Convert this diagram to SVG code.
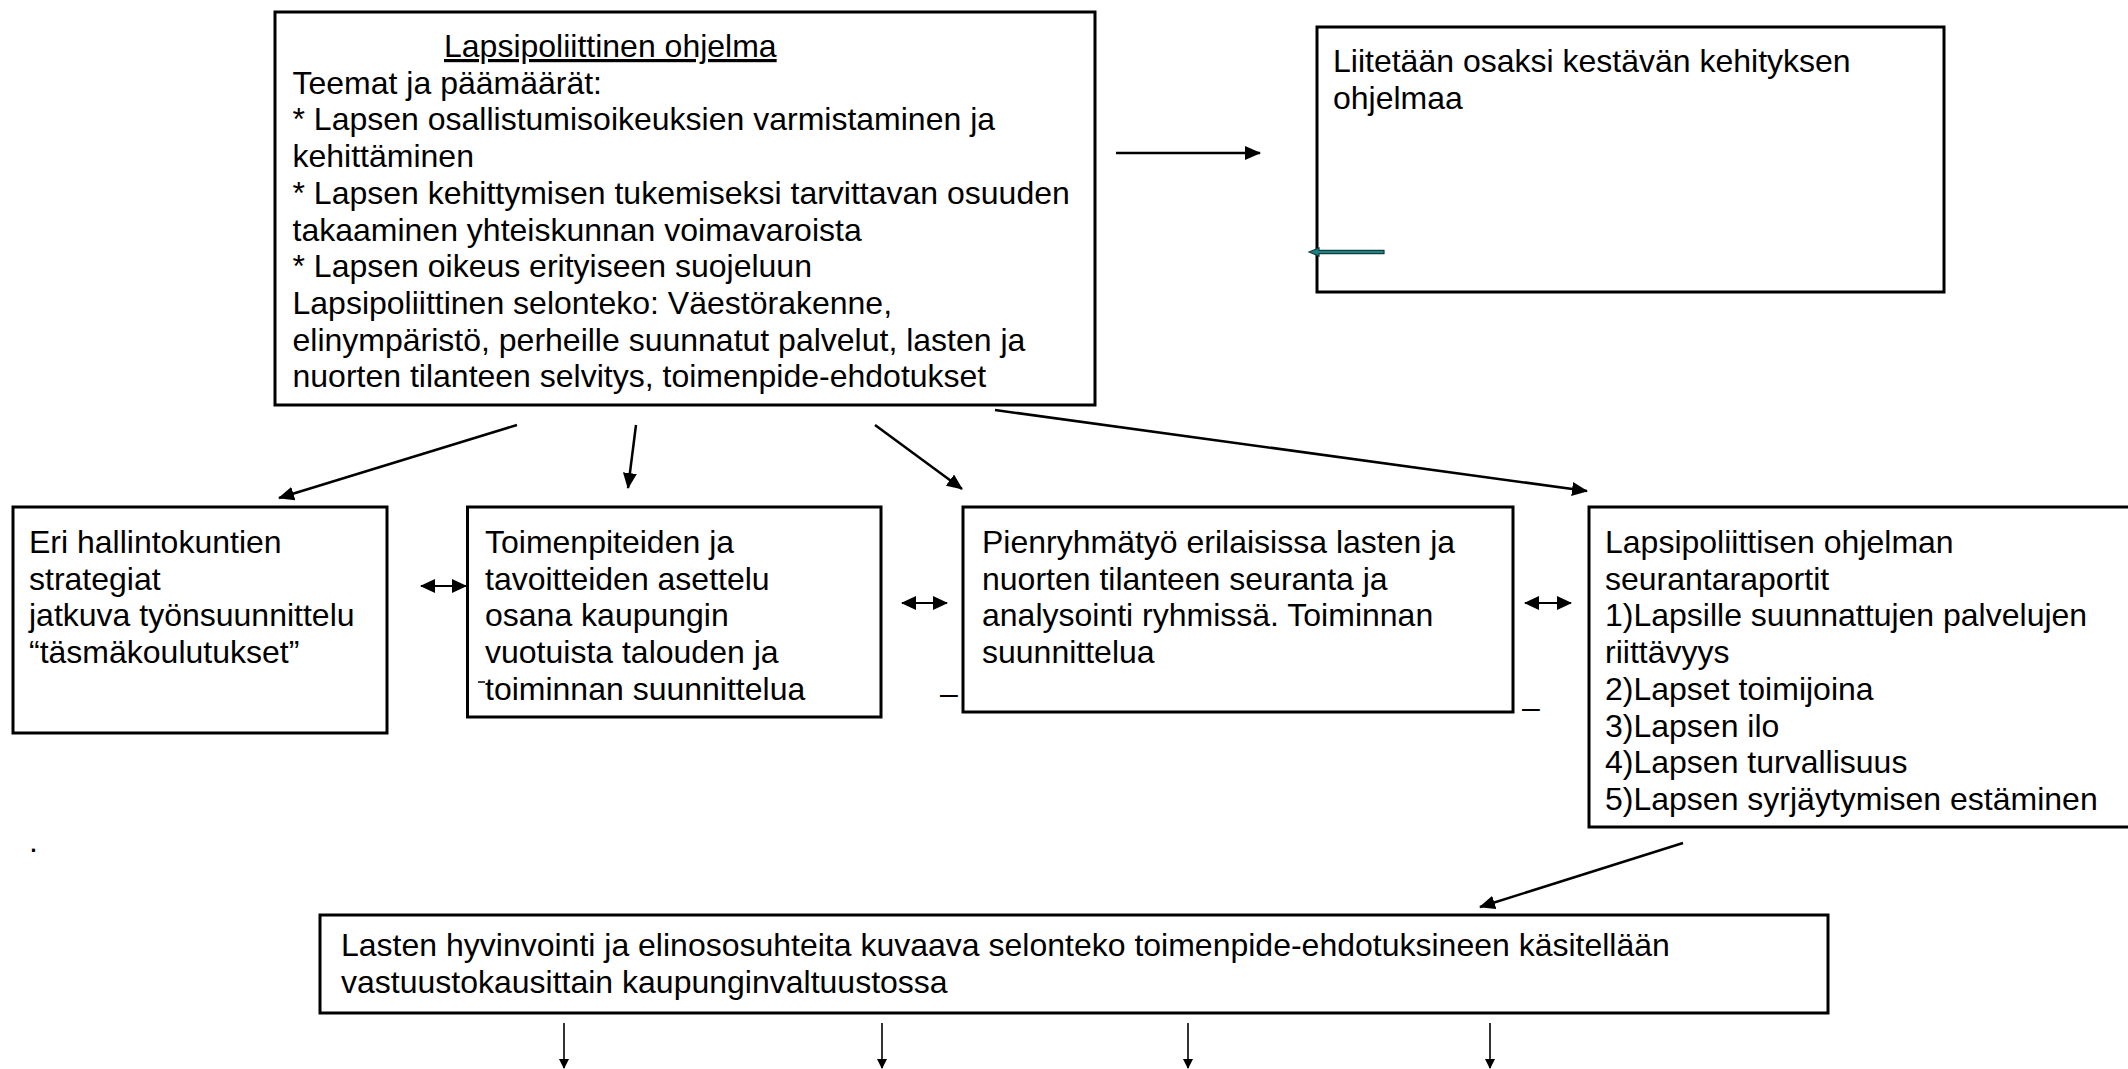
<svg xmlns="http://www.w3.org/2000/svg" width="2128" height="1069" viewBox="0 0 2128 1069">
<defs>
<style>
.box{fill:#fff;stroke:#000;stroke-width:3}
.t{font-family:"Liberation Sans",Arial,sans-serif;font-size:32px;fill:#000}
.c{stroke:#000;stroke-width:2.5;fill:none}
.thin{stroke:#000;stroke-width:1.6;fill:none}
.dbl{stroke:#000;stroke-width:2.2;fill:none}
</style>
<marker id="ah" markerWidth="16" markerHeight="14" refX="15" refY="7" orient="auto" markerUnits="userSpaceOnUse"><path d="M0,0 L16,7 L0,14 z" fill="#000"/></marker>
<marker id="ahs" markerWidth="10" markerHeight="10" refX="9" refY="5" orient="auto" markerUnits="userSpaceOnUse"><path d="M0,0 L10,5 L0,10 z" fill="#000"/></marker>
<marker id="ahd" markerWidth="15" markerHeight="14" refX="14" refY="7" orient="auto-start-reverse" markerUnits="userSpaceOnUse"><path d="M0,0 L15,7 L0,14 z" fill="#000"/></marker>
</defs>
<rect width="2128" height="1069" fill="#fff"/>

<g id="connectors">
<line class="c" x1="1116" y1="153" x2="1260" y2="153" marker-end="url(#ah)"/>
<line class="c" x1="517" y1="425" x2="279" y2="498" marker-end="url(#ah)"/>
<line class="c" x1="636" y1="425" x2="628" y2="488" marker-end="url(#ah)"/>
<line class="c" x1="875" y1="425" x2="962" y2="489" marker-end="url(#ah)"/>
<line class="c" x1="995" y1="410" x2="1587" y2="491" marker-end="url(#ah)"/>
<line class="c" x1="1683" y1="843" x2="1480" y2="907" marker-end="url(#ah)"/>
<line class="dbl" x1="421" y1="586" x2="466" y2="586" marker-start="url(#ahd)" marker-end="url(#ahd)"/>
<line class="dbl" x1="902" y1="603" x2="947" y2="603" marker-start="url(#ahd)" marker-end="url(#ahd)"/>
<line class="dbl" x1="1525" y1="603" x2="1571" y2="603" marker-start="url(#ahd)" marker-end="url(#ahd)"/>
<line class="thin" x1="564" y1="1023" x2="564" y2="1068" marker-end="url(#ahs)"/>
<line class="thin" x1="882" y1="1023" x2="882" y2="1068" marker-end="url(#ahs)"/>
<line class="thin" x1="1188" y1="1023" x2="1188" y2="1068" marker-end="url(#ahs)"/>
<line class="thin" x1="1490" y1="1023" x2="1490" y2="1068" marker-end="url(#ahs)"/>
</g>

<g id="node-top">
<rect class="box" x="275" y="12" width="820" height="393"/>
<text class="t" x="444" y="57" text-decoration="underline">Lapsipoliittinen ohjelma</text>
<text class="t" x="292.5" y="93.7">Teemat ja päämäärät:</text>
<text class="t" x="292.5" y="130.4">* Lapsen osallistumisoikeuksien varmistaminen ja</text>
<text class="t" x="292.5" y="167.1">kehittäminen</text>
<text class="t" x="292.5" y="203.8">* Lapsen kehittymisen tukemiseksi tarvittavan osuuden</text>
<text class="t" x="292.5" y="240.5">takaaminen yhteiskunnan voimavaroista</text>
<text class="t" x="292.5" y="277.2">* Lapsen oikeus erityiseen suojeluun</text>
<text class="t" x="292.5" y="313.9">Lapsipoliittinen selonteko: Väestörakenne,</text>
<text class="t" x="292.5" y="350.6">elinympäristö, perheille suunnatut palvelut, lasten ja</text>
<text class="t" x="292.5" y="387.3">nuorten tilanteen selvitys, toimenpide-ehdotukset</text>
</g>

<g id="node-kestava">
<rect class="box" x="1317" y="27" width="627" height="265"/>
<text class="t" x="1333" y="72">Liitetään osaksi kestävän kehityksen</text>
<text class="t" x="1333" y="108.7">ohjelmaa</text>
<path d="M1309,252 L1319,248 L1319,250.3 L1384,250.3 L1384,253.7 L1319,253.7 L1319,256 Z" fill="#1a8585" stroke="#173c3c" stroke-width="1.2"/>
</g>

<g id="node-strategiat">
<rect class="box" x="13" y="507" width="374" height="226"/>
<text class="t" x="29" y="553">Eri hallintokuntien</text>
<text class="t" x="29" y="589.7">strategiat</text>
<text class="t" x="29" y="626.4">jatkuva työnsuunnittelu</text>
<text class="t" x="29" y="663.1">“täsmäkoulutukset”</text>
</g>

<g id="node-toimenpiteet">
<rect class="box" x="467.5" y="507" width="413.5" height="210"/>
<text class="t" x="485" y="553">Toimenpiteiden ja</text>
<text class="t" x="485" y="589.7">tavoitteiden asettelu</text>
<text class="t" x="485" y="626.4">osana kaupungin</text>
<text class="t" x="485" y="663.1">vuotuista talouden ja</text>
<text class="t" x="485" y="699.8">toiminnan suunnittelua</text>
<line x1="478" y1="682" x2="485" y2="682" stroke="#000" stroke-width="1.5"/>
</g>

<g id="node-pienryhma">
<rect class="box" x="963" y="507" width="550" height="205"/>
<text class="t" x="982" y="553">Pienryhmätyö erilaisissa lasten ja</text>
<text class="t" x="982" y="589.7">nuorten tilanteen seuranta ja</text>
<text class="t" x="982" y="626.4">analysointi ryhmissä. Toiminnan</text>
<text class="t" x="982" y="663.1">suunnittelua</text>
</g>

<g id="node-seuranta">
<rect class="box" x="1589" y="507" width="560" height="320"/>
<text class="t" x="1605" y="553">Lapsipoliittisen ohjelman</text>
<text class="t" x="1605" y="589.7">seurantaraportit</text>
<text class="t" x="1605" y="626.4">1)Lapsille suunnattujen palvelujen</text>
<text class="t" x="1605" y="663.1">riittävyys</text>
<text class="t" x="1605" y="699.8">2)Lapset toimijoina</text>
<text class="t" x="1605" y="736.5">3)Lapsen ilo</text>
<text class="t" x="1605" y="773.2">4)Lapsen turvallisuus</text>
<text class="t" x="1605" y="809.9">5)Lapsen syrjäytymisen estäminen</text>
</g>

<g id="node-selonteko">
<rect class="box" x="320" y="915" width="1508" height="98"/>
<text class="t" x="341" y="956">Lasten hyvinvointi ja elinososuhteita kuvaava selonteko toimenpide-ehdotuksineen käsitellään</text>
<text class="t" x="341" y="992.7">vastuustokausittain kaupunginvaltuustossa</text>
</g>

<g id="marks">
<text class="t" x="940" y="704">–</text>
<text class="t" x="1522" y="718">–</text>
<text class="t" x="29" y="852">.</text>
</g>
</svg>
